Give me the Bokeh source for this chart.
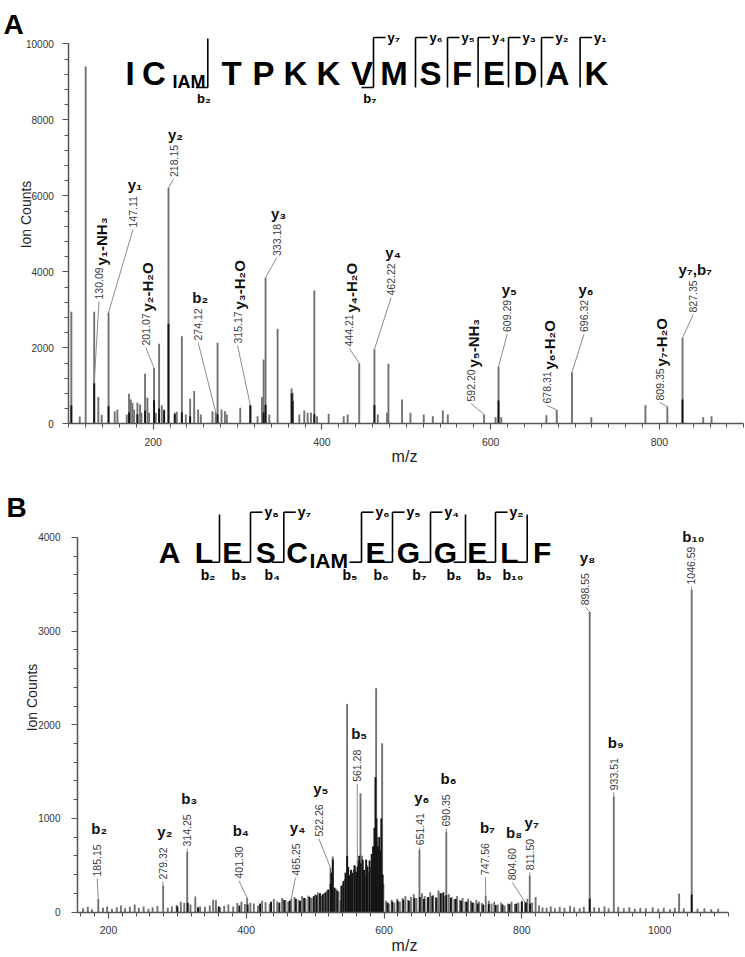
import math
from bokeh.plotting import figure
from bokeh.models import Range1d, SingleIntervalTicker, ColumnDataSource
from bokeh.layouts import column
from bokeh.embed import file_html
from bokeh.resources import INLINE
from bokeh.core.properties import value

FONT = "Liberation Sans"
GRAY = "#727272"
DARK = "#151515"
AXC = "#555555"

# ======================= Panel A : spectrum =======================
a_mz = [103, 113, 120, 130.09, 135, 139, 147.11, 154.4, 157.6, 168.7, 171.4, 173.4, 175.4, 177.4,
        181.3, 184.5, 186.1, 190.4, 193.2, 195.2, 201.07, 203.1, 207.0, 210.2, 213.0, 218.15, 225.6,
        228.0, 234.0, 238.7, 243.8, 248.6, 253.3, 256.5, 270.3, 274.12, 276.3, 281.0, 285.0, 287.3,
        303.2, 315.17, 323.7, 328.9, 330.9, 333.18, 337.6, 347.5, 364.1, 365.3, 373.2, 379.1, 383.1,
        387.0, 391.0, 394.2, 408.0, 425.8, 430.5, 444.21, 462.22, 466.2, 477.2, 478.8, 495.0, 504.9,
        520.7, 531.4, 543.3, 549.2, 592.20, 605.8, 609.29, 612.5, 666.0, 678.31, 696.32, 719.3, 783.4,
        809.35, 827.35, 851.9, 861.8]
a_ct = [2950, 193, 9400, 2950, 702, 240, 2930, 333, 377, 245, 790, 640, 552, 377,
        552, 510, 290, 1315, 684, 290, 1470, 290, 2105, 491, 377, 6210, 290,
        316, 2306, 245, 658, 860, 377, 245, 333, 305, 2131, 377, 333, 245,
        421, 491, 200, 702, 1693, 3850, 245, 2500, 930, 816, 245, 350, 290,
        290, 3508, 200, 263, 200, 245, 1595, 1963, 245, 290, 1579, 640, 290,
        245, 200, 350, 245, 245, 175, 1508, 175, 228, 368, 1358, 175, 491,
        455, 2263, 175, 200]
a_blk_mz = [103, 130.09, 147.11, 171.4, 181.3, 190.4, 201.07, 207.0, 213.0, 218.15, 225.6, 234.0,
            243.8, 276.3, 315.17, 330.9, 333.18, 364.1, 365.3, 391.0, 462.22, 609.29, 827.35]
a_blk_ct = [482, 1070, 465, 300, 250, 350, 620, 400, 350, 2631, 250, 300,
            200, 250, 491, 300, 500, 800, 600, 250, 491, 614, 640]

# annotated ions, panel A
a_ann_mz = [130.09, 147.11, 201.07, 218.15, 274.12, 315.17, 333.18, 444.21, 462.22, 592.20,
            609.29, 678.31, 696.32, 809.35, 827.35]
a_ann_mass = ["130.09", "147.11", "201.07", "218.15", "274.12", "315.17", "333.18", "444.21",
              "462.22", "592.20", "609.29", "678.31", "696.32", "809.35", "827.35"]
a_ann_ion = ["y\u2081-NH\u2083", "y\u2081", "y\u2082-H\u2082O", "y\u2082", "b\u2082", "y\u2083-H\u2082O",
             "y\u2083", "y\u2084-H\u2082O", "y\u2084", "y\u2085-NH\u2083", "y\u2085", "y\u2086-H\u2082O",
             "y\u2086", "y\u2087-H\u2082O", "y\u2087,b\u2087"]
a_ann_vert = [1, 0, 1, 0, 0, 1, 0, 1, 0, 1, 0, 1, 0, 1, 0]
a_ann_lx = [135.8, 176.1, 191.2, 224.1, 253.3, 300.0, 346.3, 432.5, 482.0, 576.9,
            619.7, 666.8, 710.7, 800.4, 840.1]
a_ann_ly = [3218, 5113, 2008, 6442, 2139, 2061, 4363, 1982, 3324, 534,
            2363, 482, 2363, 561, 2876]
a_ann_tip = [1070, 2930, 1470, 6210, 305, 491, 3850, 1595, 1963, 245,
             1508, 368, 1358, 455, 2263]

# peptide header, panel A
a_seq = ["I", "C", "T", "P", "K", "K", "V", "M", "S", "F", "E", "D", "A", "K"]
a_cut_b = ["b\u2082", "b\u2087", "", "", "", "", "", ""]
a_cut_y = ["", "y\u2087", "y\u2086", "y\u2085", "y\u2084", "y\u2083", "y\u2082", "y\u2081"]

# ======================= Panel B : spectrum =======================
b_mz = [163, 170, 176, 185.15, 192, 198, 205, 212, 218, 224,
        231, 238, 244, 251, 258, 264, 271, 279.32, 286, 292,
        299, 305, 310, 314.25, 319, 326, 333, 340, 347, 352,
        356, 362, 368, 374, 381, 387, 393, 398, 401.30, 406,
        411, 417, 423, 428, 434, 440, 445, 452, 457, 461,
        465.25, 470, 476, 481, 486, 490, 495, 500, 504, 509,
        513, 517, 522.26, 525.6, 530, 534, 536.7, 540, 543, 546.4,
        549, 551, 553.7, 556, 558.5, 561.28, 563, 565.8, 568, 570,
        573, 575, 577.8, 580, 581.2, 583, 585.1, 588.5, 590, 592.4,
        594.8, 597.2, 599, 603, 607, 611, 615, 619, 623, 627,
        631, 635, 639, 643, 647, 651.41, 655, 659, 663, 667,
        671, 675, 679, 683, 687, 690.35, 694, 698, 702, 706,
        710, 714, 718, 722, 726, 730, 734, 738, 742, 747.56,
        752, 756, 760, 765, 770, 775, 780, 785, 790, 795,
        800, 804.60, 808, 811.50, 815, 820, 825, 830, 836, 842,
        848, 855, 862, 870, 876, 884, 890, 898.55, 905, 912,
        920, 926, 933.51, 940, 948, 956, 964, 972, 980, 990,
        998, 1006, 1015, 1022, 1028.3, 1035, 1046.59, 1055, 1065, 1075,
        1085]
b_ct = [40, 55, 30, 140, 45, 60, 35, 50, 70, 40,
        55, 80, 45, 60, 35, 50, 65, 283, 45, 60,
        75, 110, 95, 640, 80, 166, 60, 55, 70, 130,
        125, 50, 65, 80, 60, 95, 110, 85, 151, 100,
        90, 70, 120, 105, 90, 140, 115, 150, 125, 110,
        140, 160, 130, 170, 145, 175, 150, 190, 210, 170,
        200, 230, 472, 593, 250, 220, 123, 300, 350, 2223,
        336, 400, 336, 450, 486, 479, 520, 1268, 600, 450,
        390, 500, 425, 480, 408, 600, 514, 2390, 800, 657,
        657, 1802, 300, 120, 90, 130, 100, 140, 110, 150,
        170, 130, 160, 190, 150, 663, 200, 170, 150, 210,
        180, 160, 230, 200, 170, 853, 190, 160, 140, 170,
        130, 150, 110, 140, 120, 100, 130, 110, 95, 176,
        120, 90, 110, 80, 100, 70, 90, 110, 85, 100,
        120, 107, 140, 392, 100, 160, 70, 50, 45, 60,
        40, 55, 45, 65, 50, 40, 55, 3204, 50, 45,
        60, 40, 1235, 55, 40, 50, 35, 45, 40, 50,
        35, 45, 30, 45, 196, 40, 3442, 35, 40, 30,
        35]
b_blk_mz = [300, 315, 330, 360, 390, 402, 420, 436, 448, 455,
            463, 472, 478, 484, 492, 498, 502, 507, 511, 515,
            519, 522.26, 523.5, 525.6, 528, 532, 538, 541, 544, 546.4,
            548, 550, 552, 554, 557, 559.5, 562, 564, 566, 569,
            571, 574, 576, 579, 582, 584, 586, 587.5, 589, 591,
            593, 595, 596, 598, 605, 612, 620, 628, 636, 644,
            652, 658, 664, 670, 676, 682, 686, 690.35, 697, 704,
            712, 720, 728, 736, 744, 752, 762, 772, 782, 792,
            800, 806, 812, 898.55, 1046.59]
b_blk_ct = [60, 100, 50, 60, 70, 80, 90, 110, 100, 130,
            120, 140, 120, 150, 160, 170, 180, 200, 190, 210,
            240, 300, 420, 560, 260, 230, 280, 330, 420, 600,
            480, 390, 450, 420, 500, 430, 550, 600, 520, 560,
            450, 560, 480, 550, 620, 700, 900, 1440, 1000, 700,
            800, 650, 1000, 400, 100, 110, 120, 130, 120, 150,
            160, 140, 160, 170, 150, 200, 210, 180, 150, 140,
            120, 110, 100, 90, 80, 85, 75, 80, 85, 90,
            110, 100, 90, 142, 185]

b_ann_mz = [185.15, 279.32, 314.25, 401.30, 465.25, 522.26, 561.28, 651.41, 690.35, 747.56,
            804.60, 811.50, 898.55, 933.51, 1046.59]
b_ann_mass = ["185.15", "279.32", "314.25", "401.30", "465.25", "522.26", "561.28", "651.41",
              "690.35", "747.56", "804.60", "811.50", "898.55", "933.51", "1046.59"]
b_ann_ion = ["b\u2082", "y\u2082", "b\u2083", "b\u2084", "y\u2084", "y\u2085", "b\u2085", "y\u2086",
             "b\u2086", "b\u2087", "b\u2088", "y\u2087", "y\u2088", "b\u2089", "b\u2081\u2080"]
b_ann_vert = [0] * 15
b_ann_lx = [183.6, 278.9, 314.3, 389.2, 471.5, 505.3, 561.0, 651.9, 690.6, 747.2,
            786.0, 811.5, 892.4, 933.4, 1046.2]
b_ann_ly = [358, 326, 678, 336, 368, 785, 1369, 692, 892, 372,
            318, 425, 3255, 1279, 3476]
b_ann_tip = [140, 283, 640, 151, 140, 472, 486, 663, 853, 176,
             107, 392, 3204, 1235, 3442]

b_seq = ["A", "L", "E", "S", "C", "E", "G", "G", "E", "L", "F"]
b_cut_b = ["b\u2082", "b\u2083", "b\u2084", "b\u2085", "b\u2086", "b\u2087", "b\u2088", "b\u2089",
           "b\u2081\u2080"]
b_cut_y = ["", "y\u2088", "y\u2087", "y\u2086", "y\u2085", "y\u2084", "", "y\u2082", ""]

# ======================= layout geometry (page pixels) =======================
# each figure's frame fills its canvas; the axes sit at fixed data locations
W = 745
A_H, B_H = 471, 485
A_TOP, B_TOP = 0, A_H
LEFT = 0
# panel A: m/z 100 at page x 68.3, 800 m/z over 675 px; 0 counts at page y 423.3
A_X0, A_PX0, A_SX = 100, 68.3, 675 / 800
A_PY0, A_SY = 423.3, 0.038
# panel B: m/z 155 at page x 77, 945 m/z over 651 px; 0 counts at page y 911.5
B_X0, B_PX0, B_SX = 155, 77.0, 651 / 945
B_PY0, B_SY = 911.5, 0.09363


def mapper(x0, px0, sx, py0, sy):
    def fx(px):
        return x0 + (px - px0) / sx

    def fy(py):
        return (py0 - py) / sy
    return fx, fy


def make_fig(h, top, fx, fy, xbounds, ybound, yint, ystand):
    p = figure(width=W, height=h,
               x_range=Range1d(fx(LEFT), fx(LEFT + W)), y_range=Range1d(fy(top + h), fy(top)),
               output_backend="svg", toolbar_location=None,
               min_border=0, min_border_left=0, min_border_right=0,
               min_border_top=0, min_border_bottom=0)
    p.xgrid.visible = False
    p.ygrid.visible = False
    p.outline_line_color = None
    p.background_fill_color = "white"
    p.border_fill_color = "white"
    p.xaxis.ticker = SingleIntervalTicker(interval=200, num_minor_ticks=10)
    p.yaxis.ticker = SingleIntervalTicker(interval=yint, num_minor_ticks=5)
    p.xaxis.fixed_location = 0
    p.yaxis.fixed_location = xbounds[0]
    p.xaxis.bounds = xbounds
    p.yaxis.bounds = (0, ybound)
    for ax in list(p.xaxis) + list(p.yaxis):
        ax.axis_line_color = AXC
        ax.axis_line_width = 1.5
        ax.major_tick_line_color = AXC
        ax.minor_tick_line_color = AXC
        ax.major_tick_line_width = 1.2
        ax.minor_tick_line_width = 1
        ax.major_tick_in = 0
        ax.minor_tick_in = 0
        ax.major_tick_out = 6
        ax.minor_tick_out = 4
        ax.major_label_text_font = FONT
        ax.major_label_text_color = "#333333"
    p.xaxis.major_label_text_font_size = "10.5px"
    p.xaxis.major_label_standoff = 8
    p.yaxis.major_label_text_font_size = "10px"
    p.yaxis.major_label_standoff = ystand
    return p


def bars(p, mz, ct, blk_mz, blk_ct):
    p.segment(x0=mz, y0=[0] * len(mz), x1=mz, y1=ct, line_color=GRAY, line_width=1.9)
    p.segment(x0=blk_mz, y0=[0] * len(blk_mz), x1=blk_mz, y1=blk_ct, line_color=DARK, line_width=1.9)


def annotate(p, mz, mass, ion, vert, lx, ly, tip, ion_dy):
    src = ColumnDataSource(dict(mz=mz, mass=mass, x=lx, y=ly, tip=tip))
    p.segment(x0="x", y0="y", x1="mz", y1="tip", source=src, line_color="#8c8c8c", line_width=1)
    p.text(x="x", y="y", text="mass", source=src, angle=math.pi / 2, y_offset=-2,
           text_align=value("left"), text_baseline=value("middle"), text_font=value(FONT),
           text_font_size=value("10.5px"), text_color="#3c3c3c")
    hv = [i for i, v in enumerate(vert) if not v]
    vv = [i for i, v in enumerate(vert) if v]
    p.text(x=[lx[i] for i in hv], y=[ly[i] for i in hv], text=[ion[i] for i in hv],
           x_offset=2, y_offset=ion_dy, text_align=value("center"), text_baseline=value("middle"),
           text_font=value(FONT), text_font_size=value("15px"), text_font_style=value("bold"),
           text_color="#111111")
    if vv:
        p.text(x=[lx[i] for i in vv], y=[ly[i] for i in vv], text=[ion[i] for i in vv],
               angle=math.pi / 2, x_offset=2, y_offset=-36, text_align=value("left"),
               text_baseline=value("middle"), text_font=value(FONT), text_font_size=value("15px"),
               text_font_style=value("bold"), text_color="#111111")


def header(p, fx, fy, letters, letter_px, base_py, font, iam_left, iam_base, iam_font,
           cut_px, cut_b, cut_y, top_py, top_b_py, bot_py, arm, ylab_dx, blab_dx, blab_py, lab_font):
    p.text(x=[fx(v) for v in letter_px], y=[fy(base_py)] * len(letters), text=letters,
           text_align=value("center"), text_baseline=value("alphabetic"), text_font=value(FONT),
           text_font_size=value(font), text_font_style=value("bold"), text_color="black")
    p.text(x=[fx(iam_left)], y=[fy(iam_base)], text=["IAM"], text_align=value("left"),
           text_baseline=value("alphabetic"), text_font=value(FONT), text_font_size=value(iam_font),
           text_font_style=value("bold"), text_color="black")
    xs, ys = [], []
    yl_x, yl_t, bl_x, bl_t = [], [], [], []
    for c, b, y in zip(cut_px, cut_b, cut_y):
        t = top_py if y else top_b_py
        xs.append([fx(c), fx(c)])
        ys.append([fy(t), fy(bot_py)])
        if y:
            xs.append([fx(c), fx(c + arm)])
            ys.append([fy(top_py), fy(top_py)])
            yl_x.append(fx(c + ylab_dx))
            yl_t.append(y)
        if b:
            xs.append([fx(c - arm), fx(c)])
            ys.append([fy(bot_py), fy(bot_py)])
            bl_x.append(fx(c + blab_dx))
            bl_t.append(b)
    p.multi_line(xs=xs, ys=ys, line_color="black", line_width=1.6)
    p.text(x=yl_x, y=[fy(top_py)] * len(yl_x), text=yl_t, text_align=value("left"),
           text_baseline=value("alphabetic"), text_font=value(FONT), text_font_size=value(lab_font),
           text_font_style=value("bold"), text_color="black")
    p.text(x=bl_x, y=[fy(blab_py)] * len(bl_x), text=bl_t, text_align=value("right"),
           text_baseline=value("alphabetic"), text_font=value(FONT), text_font_size=value(lab_font),
           text_font_style=value("bold"), text_color="black")


def titles(p, fx, fy, letter, letter_pos, ylab_pos, xlab_pos):
    p.text(x=[fx(letter_pos[0])], y=[fy(letter_pos[1])], text=[letter], text_align=value("left"),
           text_baseline=value("alphabetic"), text_font=value(FONT), text_font_size=value("28px"),
           text_font_style=value("bold"), text_color="black")
    p.text(x=[fx(ylab_pos[0])], y=[fy(ylab_pos[1])], text=["Ion Counts"], angle=math.pi / 2,
           text_align=value("center"), text_baseline=value("middle"), text_font=value(FONT),
           text_font_size=value("14px"), text_color="#222222")
    p.text(x=[fx(xlab_pos[0])], y=[fy(xlab_pos[1])], text=["m/z"], text_align=value("center"),
           text_baseline=value("middle"), text_font=value(FONT), text_font_size=value("16px"),
           text_color="#222222")


# ---------------- Panel A ----------------
fxa, fya = mapper(A_X0, A_PX0, A_SX, A_PY0, A_SY)
p1 = make_fig(A_H, A_TOP, fxa, fya, (100, 900), 10000, 2000, 9)
bars(p1, a_mz, a_ct, a_blk_mz, a_blk_ct)
annotate(p1, a_ann_mz, a_ann_mass, a_ann_ion, a_ann_vert, a_ann_lx, a_ann_ly, a_ann_tip, -45)
header(p1, fxa, fya, a_seq,
       [129.5, 153.5, 231, 263, 295, 328, 361.5, 393.5, 430, 461.5, 493.5, 525, 557, 596],
       72.5, "33px", 172, 81.5, "18px",
       [207.3, 373, 415, 447, 477.6, 508, 541, 579.6], a_cut_b, a_cut_y,
       37, 38, 87, 12, 14, 3, 97.5, "13px")
titles(p1, fxa, fya, "A", (3, 24), (25, 214), (404, 456))

# ---------------- Panel B ----------------
fxb, fyb = mapper(B_X0, B_PX0, B_SX, B_PY0, B_SY)
p2 = make_fig(B_H, B_TOP, fxb, fyb, (155, 1100), 4000, 1000, 11)
bars(p2, b_mz, b_ct, b_blk_mz, b_blk_ct)
annotate(p2, b_ann_mz, b_ann_mass, b_ann_ion, b_ann_vert, b_ann_lx, b_ann_ly, b_ann_tip, -50)
header(p2, fxb, fyb, b_seq,
       [169, 203.3, 231.7, 265.3, 296.7, 375, 408, 445, 476.7, 509, 541.7],
       551.7, "30px", 309, 560, "21px",
       [219, 250, 283.3, 361, 392, 430, 465, 495, 526.7], b_cut_b, b_cut_y,
       511.7, 514, 561.7, 12, 14, -4, 574, "14px")
titles(p2, fxb, fyb, "B", (6, 507), (31.7, 697), (404, 945))

layout = column(p1, p2)
open("out.html", "w").write(file_html(layout, INLINE, title="MS/MS spectra"))
